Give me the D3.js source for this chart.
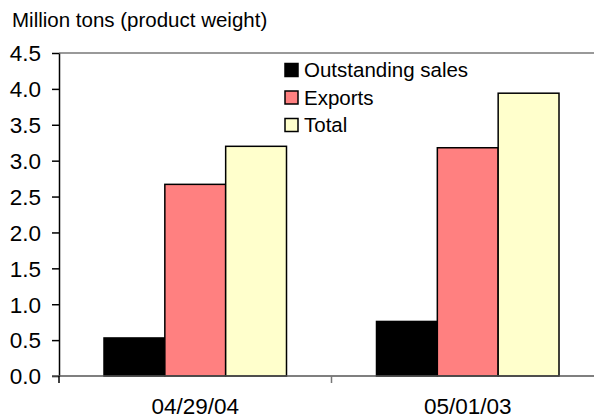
<!DOCTYPE html>
<html>
<head>
<meta charset="utf-8">
<script src="https://cdn.jsdelivr.net/npm/d3@7"></script>
<style>
  html, body { margin: 0; padding: 0; background: #fff; }
  svg { display: block; font-family: Arial, "Liberation Sans", sans-serif; }
</style>
</head>
<body>
<svg id="chart" width="594" height="418"></svg>
<script>
// Dates of the two snapshots
const categories = ["04/29/04", "05/01/03"];
// Series names and colours
const seriesNames = ["Outstanding sales", "Exports", "Total"];
const seriesColors = ["#000000", "#FF8080", "#FFFFCC"];
// Values in million tons, one array per series (same order as categories)
const outstandingSales = [0.53, 0.76];
const exportsValues = [2.67, 3.18];
const totalValues = [3.20, 3.94];
// Y axis ticks
const yTicks = [0, 0.5, 1.0, 1.5, 2.0, 2.5, 3.0, 3.5, 4.0, 4.5];

const seriesValues = [outstandingSales, exportsValues, totalValues];

const svg = d3.select("#chart");
const margin = { left: 59, top: 53, bottom: 376, right: 604 };

const x0 = d3.scaleBand().domain(categories).range([margin.left, margin.right]);
const x1 = d3.scaleBand().domain(seriesNames).range([45, x0.bandwidth() - 45]);
const y = d3.scaleLinear().domain([0, 4.5]).range([margin.bottom, margin.top]);

// Title above the value axis
svg.append("text")
  .attr("x", 12).attr("y", 27)
  .attr("font-size", 20.5).attr("fill", "#000")
  .text("Million tons (product weight)");

// Top border of the plot area
svg.append("line")
  .attr("x1", margin.left).attr("x2", 594)
  .attr("y1", y(4.5)).attr("y2", y(4.5))
  .attr("stroke", "#999").attr("stroke-width", 2);

// Bars
const groups = svg.append("g").selectAll("g")
  .data(categories)
  .join("g")
  .attr("transform", d => `translate(${x0(d)},0)`);

groups.selectAll("rect")
  .data((d, i) => seriesNames.map((s, j) => ({ s, v: seriesValues[j][i], c: seriesColors[j] })))
  .join("rect")
  .attr("x", d => x1(d.s))
  .attr("width", x1.bandwidth())
  .attr("y", d => y(d.v))
  .attr("height", d => y(0) - y(d.v))
  .attr("fill", d => d.c)
  .attr("stroke", "#000")
  .attr("stroke-width", 1.5);

// Value axis
const yAxis = svg.append("g")
  .attr("transform", `translate(${margin.left},0)`)
  .call(d3.axisLeft(y).tickValues(yTicks).tickFormat(d3.format(".1f")).tickSize(7).tickSizeOuter(0));
yAxis.select(".domain").attr("stroke", "#000").attr("stroke-width", 1.5);
yAxis.selectAll(".tick line").attr("stroke", "#000").attr("stroke-width", 1.5);
yAxis.selectAll(".tick text")
  .attr("x", -18).attr("dy", "0.35em")
  .attr("font-size", 22.5).attr("fill", "#000")
  .attr("font-family", "Arial, 'Liberation Sans', sans-serif");

// Category axis
const xAxis = svg.append("g")
  .attr("transform", `translate(0,${y(0)})`);
xAxis.append("line")
  .attr("x1", 52).attr("x2", 594)
  .attr("y1", 0).attr("y2", 0)
  .attr("stroke", "#555").attr("stroke-width", 1.5);
// Tick marks at the category boundaries
const boundaries = categories.map(c => x0(c));
xAxis.selectAll("line.tk")
  .data(boundaries)
  .join("line")
  .attr("class", "tk")
  .attr("x1", d => d).attr("x2", d => d)
  .attr("y1", 0).attr("y2", 7)
  .attr("stroke", d => d === margin.left ? "#000" : "#777")
  .attr("stroke-width", 1.5);
xAxis.selectAll("text")
  .data(categories)
  .join("text")
  .attr("x", d => x0(d) + x0.bandwidth() / 2)
  .attr("y", 38)
  .attr("text-anchor", "middle")
  .attr("font-size", 22.5).attr("fill", "#000")
  .text(d => d);

// Legend
const legend = svg.append("g").attr("transform", "translate(285,70)");
const items = legend.selectAll("g")
  .data(seriesNames)
  .join("g")
  .attr("transform", (d, i) => `translate(0,${i * 27.5})`);
items.append("rect")
  .attr("x", 0).attr("y", -6.5)
  .attr("width", 13).attr("height", 13)
  .attr("fill", (d, i) => seriesColors[i])
  .attr("stroke", "#000").attr("stroke-width", 1.5);
items.append("text")
  .attr("x", 19).attr("y", 0).attr("dy", "0.36em")
  .attr("font-size", 20.5).attr("fill", "#000")
  .text(d => d);
</script>
</body>
</html>
